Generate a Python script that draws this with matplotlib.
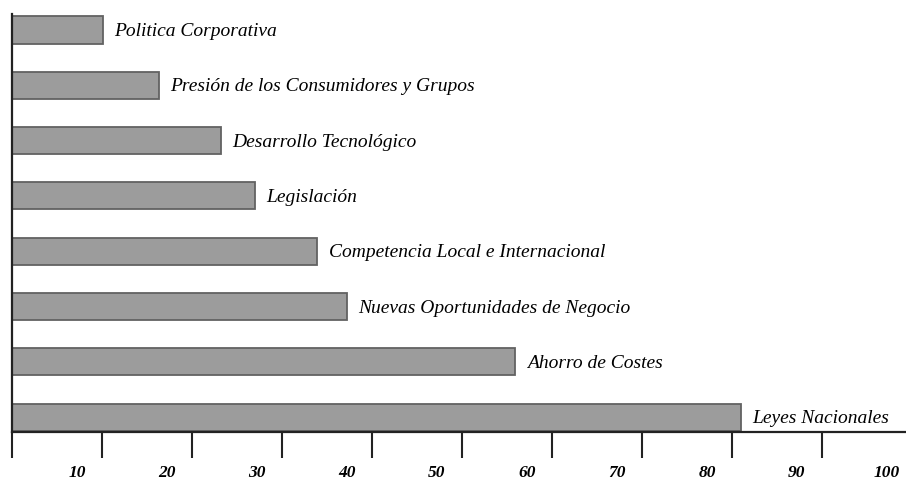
import matplotlib
matplotlib.use("Agg")
import matplotlib.pyplot as plt
import matplotlib.transforms as mtransforms

# Factores (de arriba a abajo) y su valor aproximado
factores = [
    "Politica Corporativa",
    "Presión de los Consumidores y Grupos",
    "Desarrollo Tecnológico",
    "Legislación",
    "Competencia Local e Internacional",
    "Nuevas Oportunidades de Negocio",
    "Ahorro de Costes",
    "Leyes Nacionales",
]
valores = [10.1, 16.3, 23.2, 27.0, 33.9, 37.2, 55.9, 81.0]
ticks = [0, 10, 20, 30, 40, 50, 60, 70, 80, 90, 100]
tick_labels = ["", "10", "20", "30", "40", "50", "60", "70", "80", "90", "100"]

W, H = 906, 484
fig = plt.figure(figsize=(W / 100, H / 100), dpi=100)
# axes runs slightly past the right edge, like the original
ax = fig.add_axes([12 / W, 52 / H, 900 / W, (470 - 52) / H])

pos = list(range(len(factores)))
ax.barh(pos, valores, height=0.49, color="#9c9c9c", edgecolor="#626262", linewidth=1.3)

for p, v, name in zip(pos, valores, factores):
    ax.text(v + 1.3, p + 0.03, name, va="center", ha="left",
            family="Liberation Serif", style="italic", fontsize=14, color="black")

ax.set_xlim(0, 100)
ax.set_ylim(7.27, -0.29)

ax.spines["top"].set_visible(False)
ax.spines["right"].set_visible(False)
for s in ("left", "bottom"):
    ax.spines[s].set_linewidth(1.6)
    ax.spines[s].set_color("#222222")

ax.set_yticks([])
ax.set_xticks(ticks)
ax.set_xticklabels(tick_labels, family="Liberation Serif", style="italic",
                   weight="bold", fontsize=12.5)
ax.tick_params(axis="x", direction="out", length=18.7, width=1.5, color="#222222", pad=5)

# tick labels sit a bit to the left of their ticks in the original
offset = mtransforms.ScaledTranslation(-0.25, 0, fig.dpi_scale_trans)
for lab in ax.get_xticklabels():
    lab.set_transform(lab.get_transform() + offset)

fig.savefig("out.png", dpi=100)
